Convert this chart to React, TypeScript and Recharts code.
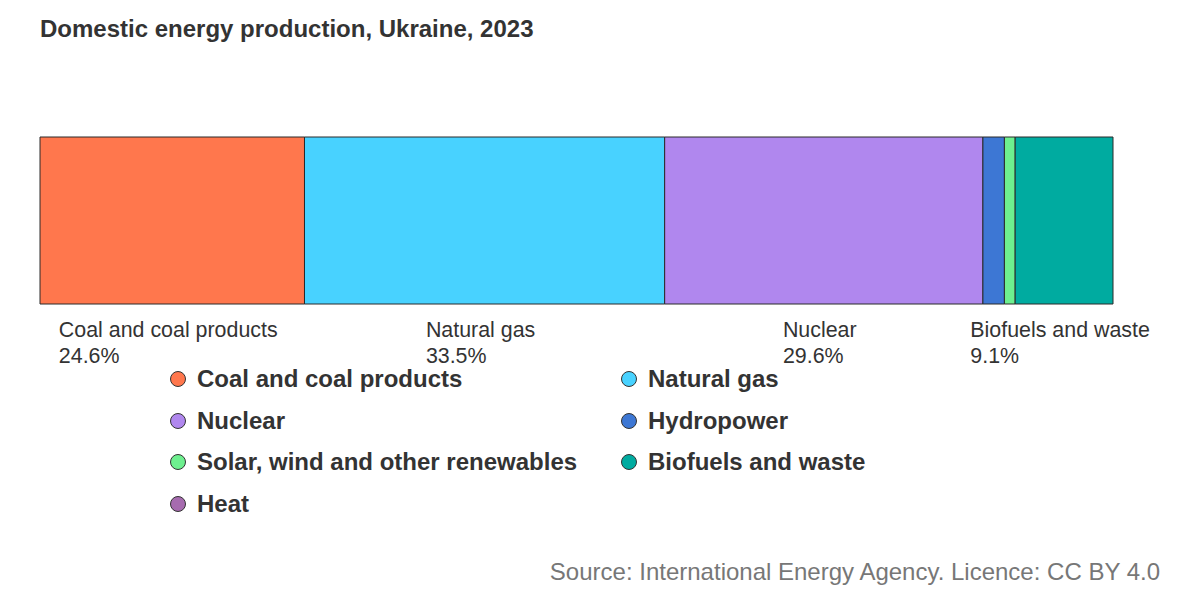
import { Bar, BarChart, LabelList, XAxis, YAxis } from "recharts";

const categories = [
  "Coal and coal products",
  "Natural gas",
  "Nuclear",
  "Hydropower",
  "Solar, wind and other renewables",
  "Biofuels and waste",
  "Heat",
];
const shares = [24.6, 33.5, 29.6, 2.0, 1.0, 9.1, 0];
const colors = ["#FF774D", "#48D2FF", "#B087EE", "#3D77D4", "#6EF08F", "#00ABA0", "#A66BAF"];
const labelled = [true, true, true, false, false, true, false];

const keys = categories.map((_, i) => `s${i}`);
const row: Record<string, number | string> = { name: "Ukraine" };
keys.forEach((k, i) => (row[k] = shares[i]));
const data = [row];
const total = shares.reduce((a, b) => a + b, 0);

const FONT = "Arial, 'Liberation Sans', sans-serif";
const LABEL_SIZE = 21.4;
let ctx: CanvasRenderingContext2D | null = null;
function textWidth(text: string, size: number) {
  if (!ctx) ctx = document.createElement("canvas").getContext("2d");
  if (!ctx) return text.length * size * 0.5;
  ctx.font = `${size}px ${FONT}`;
  return ctx.measureText(text).width;
}

function SegmentLabel(props: any, i: number) {
  const { x, y, width, height } = props;
  const name = categories[i];
  const pct = `${shares[i].toFixed(1)}%`;
  const w = Math.max(textWidth(name, LABEL_SIZE), textWidth(pct, LABEL_SIZE));
  const left = Number(x) + Number(width) / 2 - w / 2 - 4;
  const top = Number(y) + Number(height);
  return (
    <text x={left} y={top} fontSize={LABEL_SIZE} fill="#333" fontFamily={FONT}>
      <tspan x={left} dy={33}>{name}</tspan>
      <tspan x={left} dy={26}>{pct}</tspan>
    </text>
  );
}

export default function App() {
  return (
    <div style={{ position: "fixed", left: 0, top: 0, width: 1200, height: 600, background: "#fff", fontFamily: FONT }}>
      <div style={{ position: "absolute", left: 40, top: 15, fontSize: 24, fontWeight: 700, color: "#333" }}>
        Domestic energy production, Ukraine, 2023
      </div>
      <BarChart
        width={1200}
        height={600}
        data={data}
        layout="vertical"
        margin={{ left: 40, right: 87, top: 137, bottom: 296 }}
        barCategoryGap={0}
      >
        <XAxis type="number" hide domain={[0, total]} />
        <YAxis type="category" dataKey="name" hide />
        {keys.map((k, i) => (
          <Bar
            key={k}
            dataKey={k}
            stackId="a"
            fill={colors[i]}
            stroke="#2a2a2a"
            strokeWidth={1}
            isAnimationActive={false}
          >
            {labelled[i] && <LabelList dataKey={k} content={(p: any) => SegmentLabel(p, i)} />}
          </Bar>
        ))}
      </BarChart>
      <div
        style={{
          position: "absolute",
          left: 170,
          top: 366,
          display: "grid",
          gridTemplateColumns: "451px 320px",
          rowGap: 15.5,
          fontSize: 24,
          fontWeight: 700,
          color: "#333",
        }}
      >
        {categories.map((c, i) => (
          <div key={c} style={{ display: "flex", alignItems: "center", height: 26, whiteSpace: "nowrap" }}>
            <span
              style={{
                width: 16,
                height: 16,
                borderRadius: "50%",
                background: colors[i],
                border: "1px solid #333",
                marginRight: 11,
                boxSizing: "border-box",
                flex: "none",
              }}
            />
            {c}
          </div>
        ))}
      </div>
      <div style={{ position: "absolute", right: 40, top: 558, fontSize: 24, color: "#777" }}>
        Source: International Energy Agency. Licence: CC BY 4.0
      </div>
    </div>
  );
}
